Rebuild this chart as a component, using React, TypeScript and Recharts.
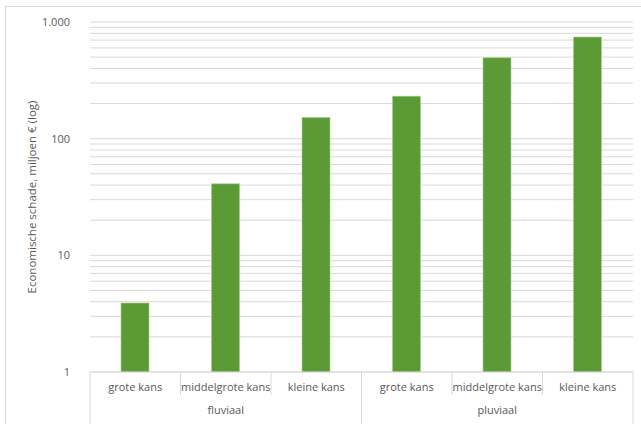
import React from 'react';
import { BarChart, Bar, XAxis, YAxis, CartesianGrid } from 'recharts';

const categories = ['grote kans', 'middelgrote kans', 'kleine kans', 'grote kans', 'middelgrote kans', 'kleine kans'];
const groups = ['fluviaal', 'pluviaal'];
const schade = [3.9, 41, 152, 231, 494, 743];

const majorTicks = [1, 10, 100, 1000];
const logTicks = [
  1, 2, 3, 4, 5, 6, 7, 8, 9,
  10, 20, 30, 40, 50, 60, 70, 80, 90,
  100, 200, 300, 400, 500, 600, 700, 800, 900,
  1000,
];

const chartData = categories.map((name, i) => ({
  key: `${i}`,
  name,
  group: groups[Math.floor(i / 3)],
  value: schade[i],
}));

const W = 641;
const H = 424;
const PLOT_LEFT = 90;
const PLOT_RIGHT = 633;
const BAND = (PLOT_RIGHT - PLOT_LEFT) / categories.length;
const FONT = '"Open Sans", "Liberation Sans", sans-serif';
const TEXT = '#595959';
const LINE = '#d9d9d9';

function CategoryTick(props: any) {
  const { x, y, payload } = props;
  const i = payload.index;
  const item = chartData[i];
  const groupEnd = i % 3 === 2;
  return (
    <g>
      {i === 0 && (
        <line x1={x - BAND / 2} x2={x - BAND / 2} y1={y} y2={y + 60} stroke={LINE} />
      )}
      <line
        x1={x + BAND / 2}
        x2={x + BAND / 2}
        y1={y}
        y2={groupEnd ? y + 60 : y + 23}
        stroke={LINE}
      />
      <text x={x} y={y + 19} textAnchor="middle" fill={TEXT} fontSize={11} fontFamily={FONT}>
        {item.name}
      </text>
      {i % 3 === 1 && (
        <text x={x} y={y + 42} textAnchor="middle" fill={TEXT} fontSize={11} fontFamily={FONT}>
          {item.group}
        </text>
      )}
    </g>
  );
}

const formatY = (v: number) =>
  majorTicks.includes(v) ? v.toString().replace(/\B(?=(\d{3})+(?!\d))/g, '.') : '';

export default function App() {
  return (
    <div style={{ position: 'absolute', left: 0, top: 0, width: W, height: H, background: '#fff', overflow: 'hidden' }}>
      <div
        style={{
          position: 'absolute',
          left: 5,
          top: 6,
          width: W,
          height: H,
          borderLeft: `1px solid ${LINE}`,
          borderTop: `1px solid ${LINE}`,
        }}
      />
      <BarChart
        width={W}
        height={H}
        data={chartData}
        margin={{ top: 22, right: W - PLOT_RIGHT, left: 0, bottom: 0 }}
        style={{ position: 'absolute', left: 0, top: 0 }}
      >
        <CartesianGrid vertical={false} stroke={LINE} strokeWidth={1} />
        <XAxis
          dataKey="key"
          height={52}
          axisLine={{ stroke: LINE }}
          tickLine={false}
          tickSize={0}
          tickMargin={0}
          interval={0}
          tick={<CategoryTick />}
        />
        <YAxis
          width={PLOT_LEFT}
          scale="log"
          domain={[1, 1000]}
          ticks={logTicks}
          interval={0}
          allowDataOverflow
          axisLine={false}
          tickLine={false}
          tickMargin={14}
          tickFormatter={formatY}
          tick={{ fill: TEXT, fontSize: 11, fontFamily: FONT }}
          label={{
            value: 'Economische schade, miljoen € (log)',
            angle: -90,
            position: 'insideLeft',
            offset: 32,
            style: { fill: TEXT, fontSize: 11.5, fontFamily: FONT, textAnchor: 'middle' },
          }}
        />
        <Bar dataKey="value" fill="#5b9a35" stroke="#a9cf8f" strokeWidth={0.6} barSize={28} isAnimationActive={false} />
      </BarChart>
    </div>
  );
}
